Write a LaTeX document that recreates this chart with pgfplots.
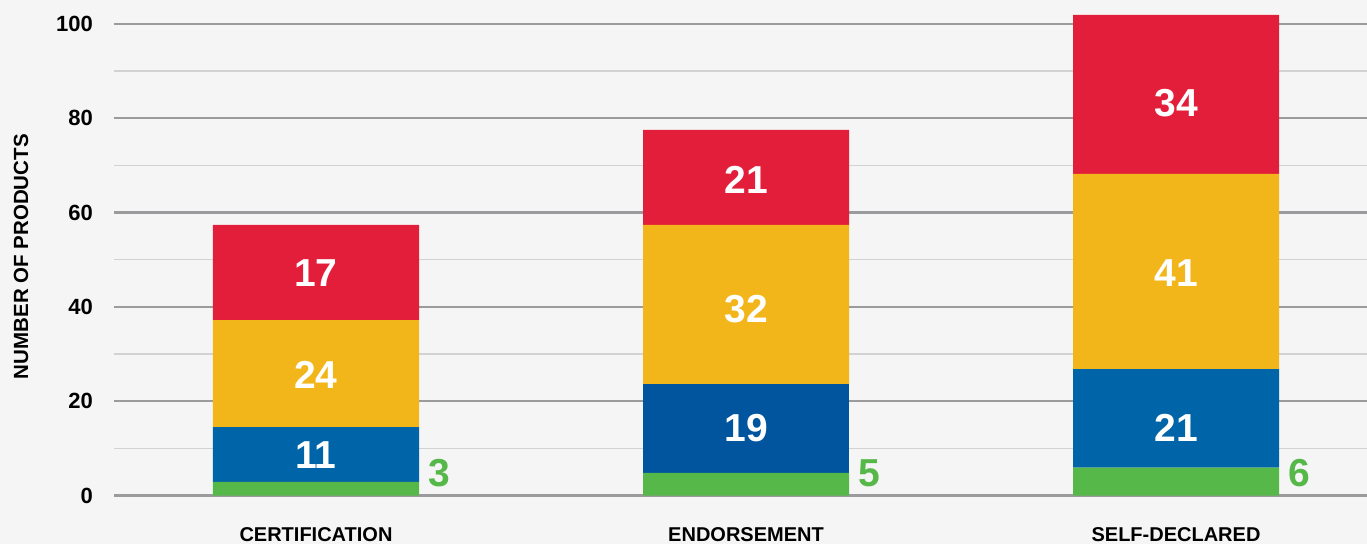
\documentclass[border=0pt]{standalone}
\usepackage{pgfplots}
\pgfplotsset{compat=1.18}
\usepackage{pgfplotstable}
\usepackage{fontspec}
\setmainfont{Liberation Sans}
\usetikzlibrary{backgrounds}
\definecolor{bg}{HTML}{F5F5F5}
\definecolor{gmaj}{HTML}{9B9B9E}
\definecolor{gmin}{HTML}{D2D2D2}
\definecolor{cred}{HTML}{E31E3A}
\definecolor{cyel}{HTML}{F2B61B}
\definecolor{cblue}{HTML}{0065A8}
\definecolor{cdblue}{HTML}{00559E}
\definecolor{cgreen}{HTML}{55B848}
\pgfplotstableread{
x h lab
0 2.9 3
1 4.8 5
2 5.9 6
}\tgreen
\pgfplotstableread{
x h lab dy
0 11.6 11 0.5
1 0 {} 0
2 20.9 21 9.5
}\tblue
\pgfplotstableread{
x h lab dy
0 0 {} 0
1 18.8 19 -0.5
2 0 {} 0
}\tdblue
\pgfplotstableread{
x h lab dy
0 22.7 24 1.5
1 33.8 32 4.5
2 41.4 41 1.5
}\tyel
\pgfplotstableread{
x h lab dy
0 20.2 17 1
1 20.1 21 2.5
2 33.7 34 8.5
}\tred
\begin{document}
\begin{tikzpicture}
\begin{axis}[
  x=215pt, y=2.3585pt,
  xmin=-0.4698, xmax=2.4442, ymin=0, ymax=105.05,
  enlargelimits=false,
  ybar stacked, bar width=103pt,
  axis line style={draw=none},
  tick style={draw=none},
  xtick={0,1,2},
  xticklabels={CERTIFICATION,ENDORSEMENT,SELF-DECLARED},
  ytick={0,20,...,100},
  minor ytick={10,30,...,90},
  ymajorgrids, yminorgrids,
  major grid style={color=gmaj, line width=1.2pt},
  minor grid style={color=gmin, line width=0.8pt},
  /pgf/number format/assume math mode=true,
  yticklabel style={font=\fontsize{11}{13}\selectfont\bfseries, anchor=east, xshift=-7pt},
  xticklabel style={font=\fontsize{10}{12}\selectfont\bfseries, anchor=base, yshift=-23.1pt},
  ylabel={NUMBER OF PRODUCTS},
  ylabel style={at={(axis description cs:-0.0742,0.482)}, anchor=center, font=\fontsize{10.25}{12}\selectfont\bfseries},
  white lab/.style={nodes near coords, point meta=explicit symbolic,
    visualization depends on={\thisrow{dy} \as \dy},
    nodes near coords align={center},
    every node near coord/.style={anchor=center, yshift={-0.5*\dy*1pt}, text=white, font=\fontsize{19.5}{20}\selectfont\bfseries}},
]
\addplot[fill=cgreen, draw=none, nodes near coords, point meta=explicit symbolic,
  visualization depends on={\thisrow{h} \as \hh},
  nodes near coords align={west},
  every node near coord/.style={anchor=west, inner sep=0pt, xshift=56pt, yshift={(4.77-0.5*\hh)*2.3585pt}, text=cgreen, font=\fontsize{19.5}{20}\selectfont\bfseries}]
  table[x=x,y=h,meta=lab]{\tgreen};
\addplot[fill=cblue, draw=none, white lab] table[x=x,y=h,meta=lab]{\tblue};
\addplot[fill=cdblue, draw=none, white lab] table[x=x,y=h,meta=lab]{\tdblue};
\addplot[fill=cyel, draw=none, white lab] table[x=x,y=h,meta=lab]{\tyel};
\addplot[fill=cred, draw=none, white lab] table[x=x,y=h,meta=lab]{\tred};
\coordinate (bl) at (axis cs:-0.73488,-10.28);
\coordinate (tr) at (axis cs:2.44419,105.05);
\end{axis}
\pgfresetboundingbox
\path[use as bounding box] (bl) rectangle (tr);
\begin{pgfonlayer}{background}
\fill[bg] (bl) rectangle (tr);
\end{pgfonlayer}
\end{tikzpicture}
\end{document}
